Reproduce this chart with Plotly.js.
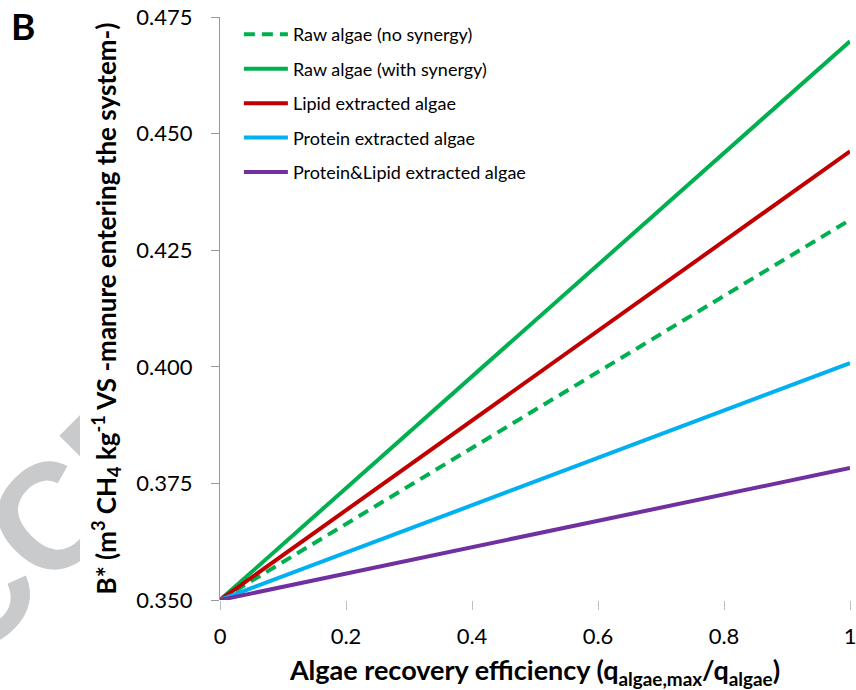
<!DOCTYPE html>
<html>
<head>
<meta charset="utf-8">
<script src="https://cdn.plot.ly/plotly-3.0.1.min.js"></script>
<style>html,body{margin:0;padding:0;background:#fff;}#chart{width:856px;height:690px;}</style>
</head>
<body>
<div id="chart"></div>
<script>
// Data
var recovery = [0, 1];
var rawNoSynergy = [0.350, 0.4315];
var rawWithSynergy = [0.350, 0.4698];
var lipidExtracted = [0.350, 0.4462];
var proteinExtracted = [0.350, 0.4008];
var proteinLipidExtracted = [0.350, 0.3783];
var seriesNames = [
  'Raw algae (no synergy)',
  'Raw algae (with synergy)',
  'Lipid extracted algae',
  'Protein extracted algae',
  'Protein&Lipid extracted algae'
];
var yTicks = [0.350, 0.375, 0.400, 0.425, 0.450, 0.475];
var xTicks = [0, 0.2, 0.4, 0.6, 0.8, 1];

var FONT = 'Lato, "Open Sans", "Liberation Sans", sans-serif';
var colors = ['#00B050', '#00B050', '#C00000', '#00B0F0', '#7030A0'];
var series = [rawNoSynergy, rawWithSynergy, lipidExtracted, proteinExtracted, proteinLipidExtracted];

var traces = series.map(function (vals, i) {
  return {
    x: recovery,
    y: vals,
    type: 'scatter',
    mode: 'lines',
    name: seriesNames[i],
    legendgroup: 'g' + i,
    line: {color: colors[i], width: 4, dash: i === 0 ? '11px,7px' : 'solid'},
    cliponaxis: true
  };
});

// faint "ACCEPTED MANUSCRIPT" watermark fragment seen at the left edge
var wm = '<svg xmlns="http://www.w3.org/2000/svg" width="80" height="290" viewBox="0 400 80 290">' +
  '<defs><clipPath id="c"><rect x="0" y="400" width="80" height="290"/></clipPath></defs>' +
  '<g clip-path="url(#c)"><text x="-28" y="669" transform="rotate(-45 -28 669)" ' +
  'font-family="Liberation Sans, Arial, sans-serif" font-weight="bold" font-size="150" fill="#C9CACB">CCEPTED</text></g></svg>';

var layout = {
  width: 856,
  height: 690,
  margin: {l: 220, r: 6, t: 17, b: 90},
  paper_bgcolor: '#ffffff',
  plot_bgcolor: '#ffffff',
  font: {family: FONT, color: '#000000'},
  showlegend: true,
  legend: {
    x: 0.03, y: 1.0015, xanchor: 'left', yanchor: 'top',
    font: {family: FONT, size: 18, color: '#000'},
    bgcolor: 'rgba(0,0,0,0)',
    itemwidth: 44,
    tracegroupgap: 8,
    traceorder: 'grouped'
  },
  xaxis: {
    range: [0, 1],
    tickvals: xTicks,
    ticktext: xTicks.map(function (v) { return String(v); }),
    showgrid: false,
    zeroline: false,
    showline: false,
    ticks: 'outside',
    ticklen: 9,
    tickcolor: '#BFBFBF',
    tickwidth: 1,
    ticklabelstandoff: 8,
    ticklabeloverflow: 'allow',
    tickfont: {family: FONT, size: 22, color: '#000'},
    title: {
      text: 'Algae recovery efficiency (q<sub>algae,max</sub>/q<sub>algae</sub>)',
      font: {family: FONT, size: 27, color: '#000', weight: 'bold'},
      standoff: 13
    },
    automargin: false
  },
  yaxis: {
    range: [0.35, 0.475],
    tickvals: yTicks,
    ticktext: yTicks.map(function (v) { return v.toFixed(3); }),
    showgrid: false,
    zeroline: false,
    showline: true,
    linecolor: '#999999',
    linewidth: 1,
    ticks: 'outside',
    ticklen: 8,
    tickcolor: '#999999',
    tickwidth: 1,
    ticklabelstandoff: 14,
    tickfont: {family: FONT, size: 22, color: '#000'},
    title: {
      text: 'B* (m<sup>3</sup> CH<sub>4</sub> kg<sup>-1</sup> VS -manure entering the system-)',
      font: {family: FONT, size: 26, color: '#000', weight: 'bold'},
      standoff: 12
    },
    automargin: false
  },
  images: [{
    source: 'data:image/svg+xml;charset=utf-8,' + encodeURIComponent(wm),
    xref: 'paper', yref: 'paper',
    x: -220 / 630, y: 200 / 583, sizex: 80 / 630, sizey: 290 / 583,
    xanchor: 'left', yanchor: 'top', sizing: 'stretch', layer: 'below'
  }],
  annotations: [
    {
      text: 'B', xref: 'paper', yref: 'paper', x: -0.335, y: 1.027,
      xanchor: 'left', yanchor: 'top', showarrow: false,
      font: {family: FONT, size: 37, color: '#000', weight: 'bold'}
    }
  ]
};

Plotly.newPlot('chart', traces, layout, {displayModeBar: false, staticPlot: true});
</script>
</body>
</html>
